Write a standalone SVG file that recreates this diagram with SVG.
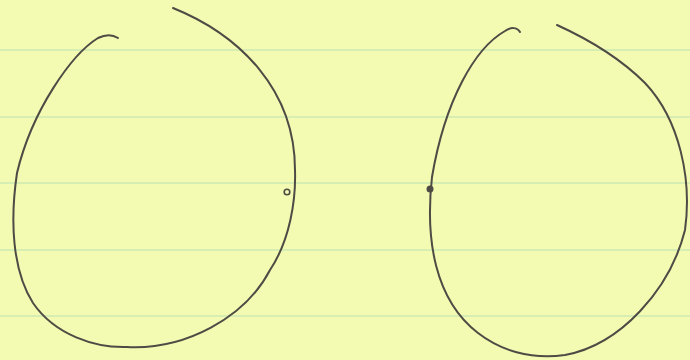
<svg xmlns="http://www.w3.org/2000/svg" width="690" height="360" viewBox="0 0 690 360">
<style>
.rule{stroke:#d6eeb2;stroke-width:2;}
.ink{fill:none;stroke:#4e4b45;stroke-width:2;stroke-linecap:round;stroke-linejoin:round;}
</style>
<rect width="690" height="360" fill="#f3fab2"/>
<g id="paper-lines">
<line class="rule" x1="0" y1="50" x2="690" y2="50"/>
<line class="rule" x1="0" y1="117" x2="690" y2="117"/>
<line class="rule" x1="0" y1="183" x2="690" y2="183"/>
<line class="rule" x1="0" y1="250" x2="690" y2="250"/>
<line class="rule" x1="0" y1="316" x2="690" y2="316"/>
</g>
<g id="left-loop">
<path class="ink" d="M118,38 C112,34 104,35 98,38 C72,54 32,110 17,173 C10,220 12,270 33,303 C55,335 95,348 127,347 C185,350 245,318 270,270 C290,240 296,200 295,170 C295,90 240,35 173,8"/>
<circle cx="287" cy="192" r="2.8" fill="none" stroke="#4e4b45" stroke-width="1.6"/>
</g>
<g id="right-loop">
<path class="ink" d="M520,32 C517,27 511,27 505,31 C475,48 445,100 432,177 C425,240 435,300 478,333 C500,350 530,360 565,355 C620,345 670,290 685,230 C692,180 680,120 645,83 C620,58 590,40 557,25"/>
<circle cx="430" cy="189" r="3.5" fill="#4e4b45"/>
</g>
</svg>
